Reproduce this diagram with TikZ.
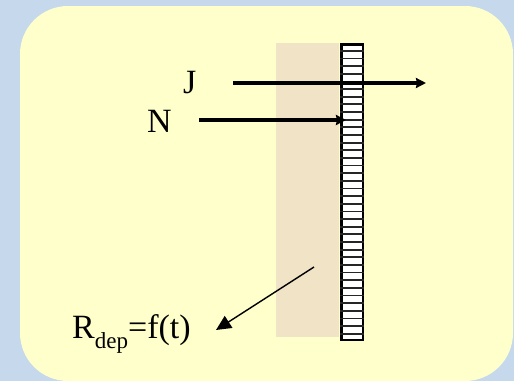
\documentclass[tikz,border=0pt]{standalone}
\usepackage{fontspec}
\setmainfont{Liberation Serif}
\usetikzlibrary{arrows.meta,positioning,calc}
\definecolor{cSlide}{HTML}{C5D8EC}
\definecolor{cPanel}{HTML}{FFFFCC}
\definecolor{cSoil}{HTML}{F0E3C6}
\newcommand{\lowtxt}[1]{\raisebox{-0.32em}{\fontsize{23}{23}\selectfont #1}}

\begin{document}
\begin{tikzpicture}[
    x=1pt, y=-1pt,
    txt/.style={font=\fontsize{34}{40}\selectfont, inner sep=0pt, anchor=base west},
    flux/.style={-{Stealth[length=10pt,width=10pt,inset=1pt]}, line width=3.6pt},
    rate/.style={-{Triangle[length=15pt,width=14pt]}, line width=1.4pt},
  ]
  \useasboundingbox (0,0) rectangle (514,381);
  \fill[cSlide] (0,0) rectangle (514,381);
  \fill[cPanel, rounded corners=48pt] (20,6) rectangle (513,381);
  % soil layer and film
  \node[fill=cSoil, minimum width=63pt, minimum height=294pt, inner sep=0pt, anchor=north west] (soil) at (276,43) {};
  \node[draw, fill=white, line width=2.6pt, minimum width=21.6pt, minimum height=295.6pt, inner sep=0pt, anchor=north west] (film) at (340.2,43.2) {};
  \foreach \i in {1,...,38}
    \draw[line width=1.8pt, black!85] ($(film.north west)!{\i/39}!(film.south west)$) -- ($(film.north east)!{\i/39}!(film.south east)$);
  % labels
  \node[txt] (J) at (183,93) {J};
  \node[txt] (N) at (147,132) {N};
  \node[txt] (rdep) at (72,338) {R\lowtxt{dep}=f(t)};
  % fluxes
  \coordinate (jin) at (233,83);
  \coordinate (jout) at (426,83);
  \coordinate (nin) at (199,120);
  \coordinate (nout) at (346,120);
  \coordinate (rsrc) at (314,267);
  \coordinate (rtip) at (216,330);
  \draw[flux] (jin) -- (jout);
  \draw[flux] (nin) -- (nout);
  \draw[rate] (rsrc) -- (rtip);
\end{tikzpicture}
\end{document}
